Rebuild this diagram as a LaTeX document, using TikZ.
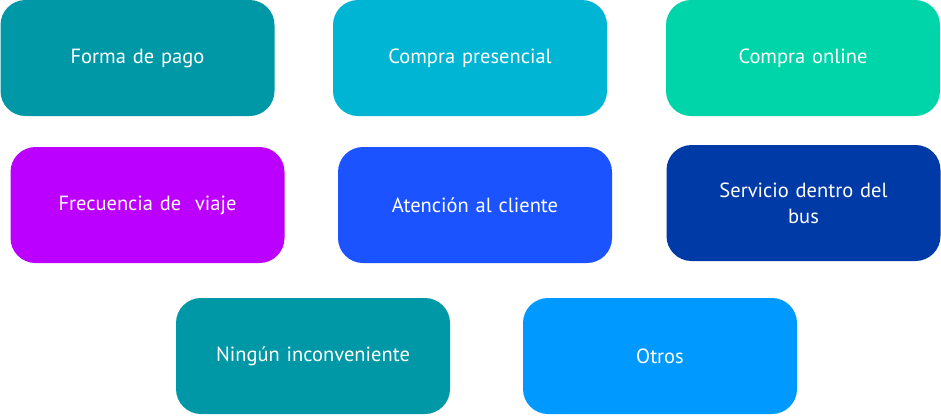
\documentclass[tikz,border=0pt]{standalone}
\usepackage{fontspec}
\setmainfont{PT Sans}
\usetikzlibrary{positioning}

\definecolor{cTeal}{HTML}{0097A7}
\definecolor{cCyan}{HTML}{00B5D3}
\definecolor{cMint}{HTML}{00D4A9}
\definecolor{cViolet}{HTML}{BB00FF}
\definecolor{cBlue}{HTML}{1A53FF}
\definecolor{cNavy}{HTML}{003AA6}
\definecolor{cSky}{HTML}{0099FF}

\tikzset{
  opcion/.style={rectangle, rounded corners=25pt, minimum width=274pt,
    minimum height=116pt, text width=210pt, align=center, text=white,
    font=\fontsize{20.5}{26}\selectfont, inner sep=0pt}
}

\begin{document}
\begin{tikzpicture}[x=1pt,y=-1pt]
\useasboundingbox (0,0) rectangle (941,416);
% fila 1
\node[opcion, fill=cTeal] (pago) at (137.5,58) {Forma de pago};
\node[opcion, fill=cCyan] (presencial) at (470,58) {Compra presencial};
\node[opcion, fill=cMint] (online) at (803,58) {Compra online};
% fila 2
\node[opcion, fill=cViolet] (frecuencia) at (147.5,205) {Frecuencia de\ \ viaje};
\node[opcion, fill=cBlue] (atencion) at (475,205) {Atención al cliente};
\node[opcion, fill=cNavy] (servicio) at (803.5,203) {Servicio dentro del\\bus};
% fila 3
\node[opcion, fill=cTeal] (ninguno) at (313,356) {Ningún inconveniente};
\node[opcion, fill=cSky] (otros) at (660,356) {Otros};
\end{tikzpicture}
\end{document}
